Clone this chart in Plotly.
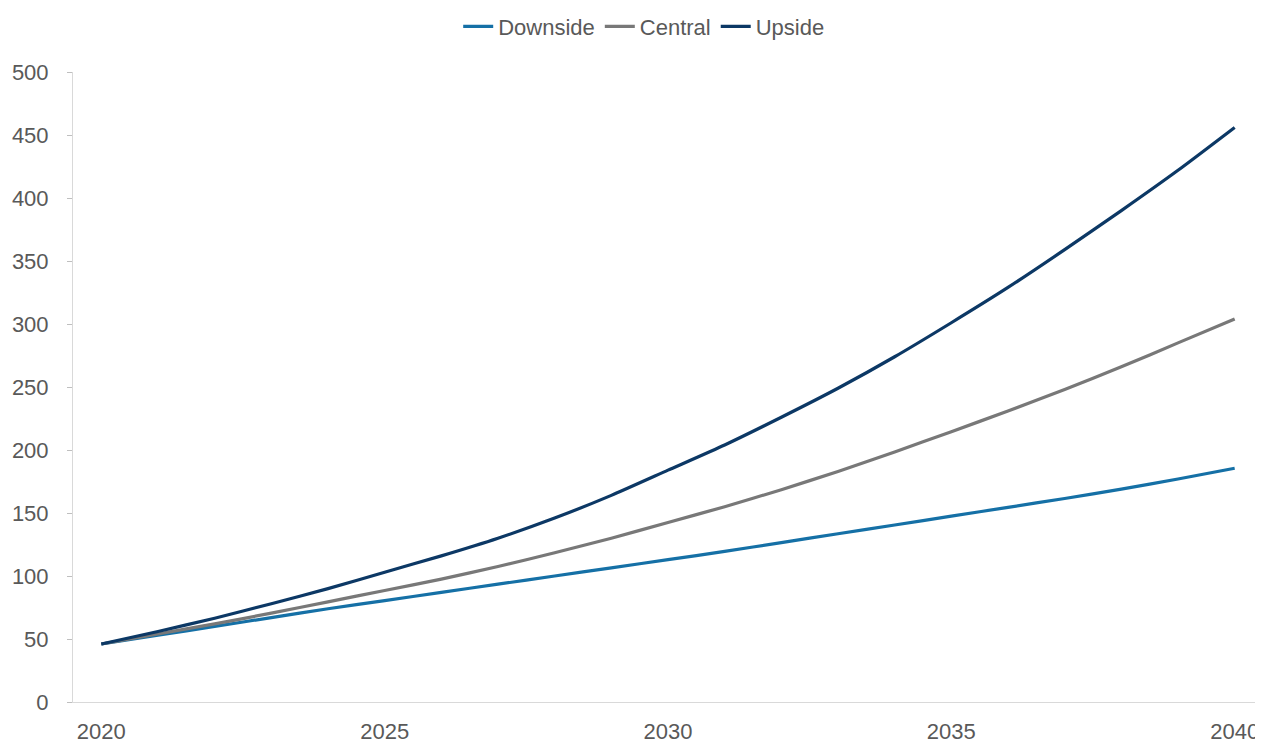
import plotly.graph_objects as go

years = list(range(2020, 2041))

downside = [46, 53, 60, 67, 74, 80.5, 87, 93.5, 100, 106.5, 113,
            119.5, 126.5, 133.5, 140.5, 147.5, 154.5, 161.5, 169, 177, 185.5]
central = [46, 54, 62, 70.5, 79.5, 88.5, 97.5, 107.5, 118.5, 130, 142.5,
           155, 168.5, 183, 198.5, 214.5, 231, 248, 266, 285, 304]
upside = [46, 56, 66.5, 78, 90, 103, 116, 130, 146, 164, 184,
          204, 226, 249, 274, 301, 329, 359, 390, 422, 456]

x_ticks = [2020, 2025, 2030, 2035, 2040]
y_ticks = [0, 50, 100, 150, 200, 250, 300, 350, 400, 450, 500]

font_family = "Liberation Sans, Arial, sans-serif"
text_color = "#595959"

series = [
    ("Downside", downside, "#1570a6"),
    ("Central", central, "#787878"),
    ("Upside", upside, "#0c3865"),
]

fig = go.Figure()
for name, values, color in series:
    fig.add_trace(go.Scatter(
        x=years, y=values, name=name, mode="lines",
        line=dict(color=color, width=3.2, shape="spline", smoothing=0.6),
    ))

# page body has an 8px margin, so the figure is a bit smaller than the window
fig.update_layout(
    width=1255, height=735,
    margin=dict(l=65, r=0, t=64, b=41, autoexpand=False),
    paper_bgcolor="white", plot_bgcolor="white",
    font=dict(family=font_family, size=22, color=text_color),
    showlegend=True,
    legend=dict(
        orientation="h", x=0.48, xanchor="center", y=1.072, yanchor="middle",
        font=dict(size=22, color=text_color),
        itemwidth=30, tracegroupgap=0,
    ),
    xaxis=dict(
        range=[2019.5, 2040.5], tickvals=x_ticks, ticktext=[str(v) for v in x_ticks],
        showgrid=False, zeroline=False, showline=True, linecolor="#d9d9d9", linewidth=1,
        ticks="", ticklabelstandoff=10,
    ),
    yaxis=dict(
        range=[0, 500], tickvals=y_ticks, showgrid=False, zeroline=False,
        showline=True, linecolor="#d9d9d9", linewidth=1,
        ticks="outside", ticklen=5, tickcolor="#bfbfbf", ticklabelstandoff=14,
    ),
)

# no scrollbars, otherwise one eats the right edge of the chart
fig.write_html(
    "out.html",
    post_script="document.documentElement.style.overflow = 'hidden';"
                "document.body.style.overflow = 'hidden';",
)
